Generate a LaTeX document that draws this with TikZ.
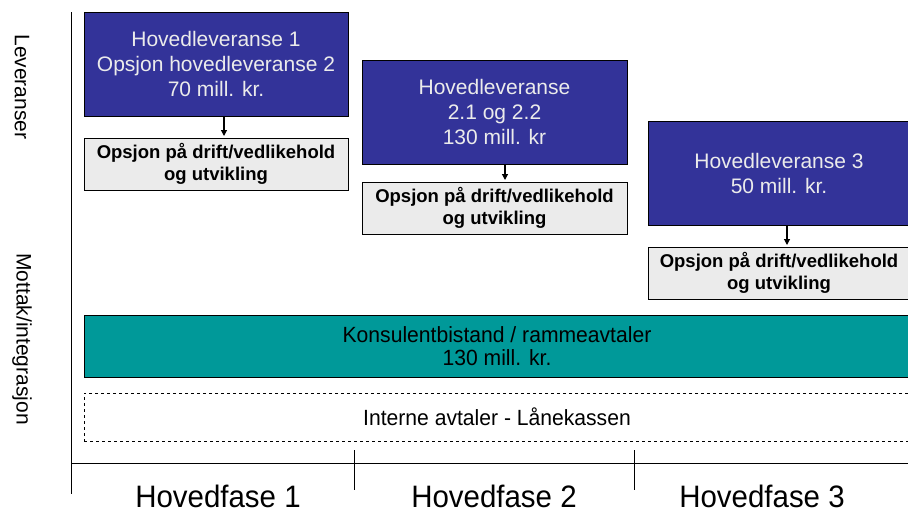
\documentclass[tikz,border=0pt]{standalone}
\usepackage{fontspec}
\setmainfont{Liberation Sans}
\usetikzlibrary{arrows.meta}
\definecolor{dblue}{HTML}{333399}
\definecolor{teal2}{HTML}{009999}
\definecolor{lgray}{HTML}{EBEBEB}
\tikzset{
  mainbox/.style={draw=black, line width=1pt, fill=dblue, text=white!92!black, align=center, font=\fontsize{21}{25}\selectfont, inner sep=0pt},
  optbox/.style={draw=black, line width=1pt, fill=lgray, align=center, font=\fontsize{18.5}{22}\selectfont\bfseries, inner sep=0pt},
  conn/.style={-{Triangle[length=6pt,width=6pt]}, line width=1.2pt},
  axis/.style={line width=1pt},
  phase/.style={font=\fontsize{31}{33}\selectfont, xscale=0.95, transform shape, inner sep=0pt},
  bartext/.style={font=\fontsize{22}{23}\selectfont, xscale=0.96, transform shape, align=center},
  side/.style={font=\fontsize{21}{24}\selectfont, rotate=-90}
}
\begin{document}
\begin{tikzpicture}[x=1pt,y=-1pt]
\useasboundingbox (0,0) rectangle (908,514);
% axes
\draw[axis] (71,12) -- (71,494);
\draw[axis] (71,463) -- (908,463);
\draw[line width=0.8pt] (354,450) -- (354,490);
\draw[line width=0.8pt] (634,450) -- (634,490);
% side labels
\node[side] (lev) at (22,87) {Leveranser};
\node[side] (mot) at (22,339) {Mottak/integrasjon};
% main boxes
\node[mainbox, minimum width=264pt, minimum height=104pt] (h1) at (216,64) {Hovedleveranse 1\\Opsjon hovedleveranse 2\\70 mill. kr.};
\node[optbox, minimum width=264pt, minimum height=52pt] (o1) at (216,164) {Opsjon på drift/vedlikehold\\og utvikling};
\node[mainbox, minimum width=265pt, minimum height=104pt] (h2) at (494.5,112) {Hovedleveranse\\ 2.1 og 2.2\\130 mill. kr};
\node[optbox, minimum width=265pt, minimum height=52pt] (o2) at (494.5,208) {Opsjon på drift/vedlikehold\\og utvikling};
\node[mainbox, minimum width=262pt, minimum height=104pt] (h3) at (779,173) {Hovedleveranse 3\\50 mill. kr.};
\node[optbox, minimum width=262pt, minimum height=52pt] (o3) at (779,273) {Opsjon på drift/vedlikehold\\og utvikling};
% arrows
\draw[conn] (224,116) -- (224,136);
\draw[conn] (505,164) -- (505,180);
\draw[conn] (787,225) -- (787,245);
% teal bar
\node[draw=black, line width=1pt, fill=teal2, minimum width=826pt, minimum height=62pt, inner sep=0pt] (kb) at (497,346) {};
\node[bartext] (kbt) at (kb.center) {Konsulentbistand / rammeavtaler\\130 mill. kr.};
% dashed
\node[draw=black, dashed, line width=0.8pt, minimum width=826pt, minimum height=48pt, inner sep=0pt] (ia) at (497,417) {};
\node[bartext] (iat) at (ia.center) {Interne avtaler - Lånekassen};
% phases
\node[phase] (p1) at (218,496) {Hovedfase 1};
\node[phase] (p2) at (494,496) {Hovedfase 2};
\node[phase] (p3) at (762,496) {Hovedfase 3};
\end{tikzpicture}
\end{document}
